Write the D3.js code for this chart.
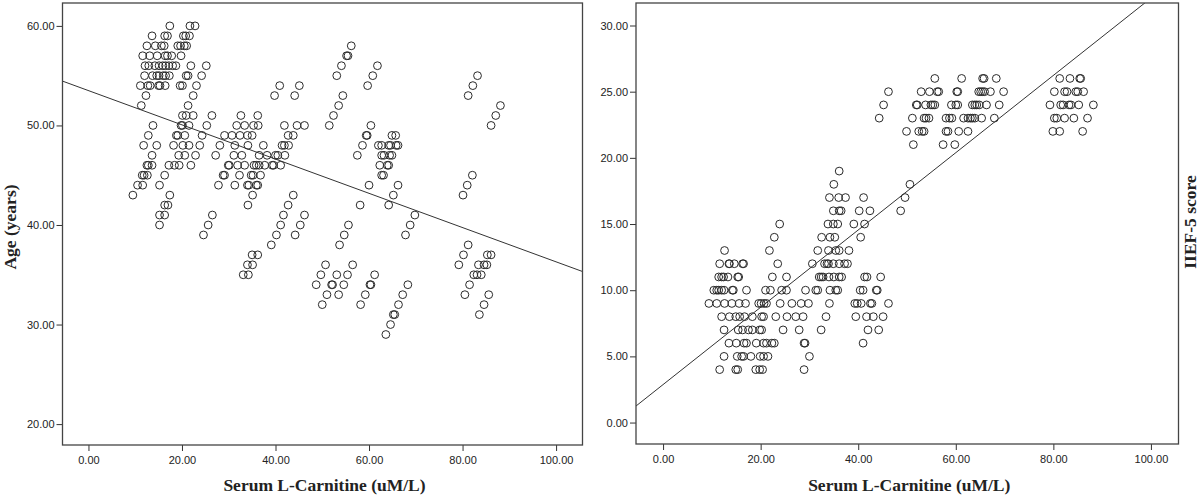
<!DOCTYPE html>
<html>
<head>
<meta charset="utf-8">
<script src="https://cdn.jsdelivr.net/npm/d3@7"></script>
<style>
  body { margin: 0; background: #fff; }
  .tick text { font-family: "Liberation Sans", Arial, sans-serif; font-size: 11px; fill: #222; }
  .tick line { stroke: #333; }
  .title { font-family: "Liberation Serif", "Times New Roman", serif; font-weight: bold; font-size: 17.5px; fill: #222; }
</style>
</head>
<body>
<div id="plot"></div>
<script>
//tick values shared by both panels
var carnitineTicks = [0, 20, 40, 60, 80, 100];
var ageTicks = [20, 30, 40, 50, 60];
var iiefTicks = [0, 5, 10, 15, 20, 25, 30];

//left panel: age row -> serum L-carnitine values of the points in that row
var ageRows = [
  [60, [17.4, 21.7, 22.8]],
  [59, [13.6, 16.3, 16.9, 20.3, 20.8, 21.6]],
  [58, [12.5, 14.3, 15.6, 16.2, 19.1, 19.7, 20.5, 21.0, 56.2]],
  [57, [11.6, 13.1, 14.7, 16.4, 16.9, 17.8, 19.8, 55.2, 55.5]],
  [56, [12.1, 12.9, 14.2, 15.1, 15.9, 16.5, 17.2, 18.0, 18.7, 21.9, 25.2, 54.1, 61.8]],
  [55, [12.0, 13.7, 14.6, 15.1, 16.0, 16.5, 17.3, 20.9, 21.3, 24.2, 53.1, 60.8, 83.2]],
  [54, [11.1, 12.7, 13.2, 15.0, 15.3, 16.4, 19.6, 20.1, 23.1, 40.9, 45.1, 59.7, 82.2]],
  [53, [12.3, 22.4, 39.8, 44.1, 54.4, 81.2]],
  [52, [11.3, 21.3, 53.5, 88.1]],
  [51, [20.1, 20.9, 22.4, 26.4, 32.6, 36.2, 52.4, 87.1]],
  [50, [13.8, 19.8, 20.1, 21.5, 25.3, 31.7, 33.4, 35.3, 36.3, 41.9, 44.6, 46.2, 51.5, 60.4, 86.1]],
  [49, [12.8, 18.8, 19.1, 20.6, 24.3, 29.1, 30.7, 32.4, 34.0, 35.0, 42.7, 43.8, 59.4, 59.6, 64.9, 65.7]],
  [48, [11.8, 14.6, 18.2, 20.2, 21.5, 23.8, 28.1, 31.3, 34.1, 37.4, 41.4, 41.9, 42.8, 58.6, 62.0, 62.7, 64.2, 64.6, 65.8, 66.2]],
  [47, [13.6, 19.3, 20.6, 22.9, 27.2, 31.1, 32.8, 36.5, 38.2, 40.0, 40.5, 42.0, 57.5, 62.7, 63.2, 64.4, 64.9]],
  [46, [12.5, 12.8, 13.6, 17.2, 18.4, 19.4, 21.9, 29.9, 30.1, 31.9, 33.4, 35.4, 35.9, 36.5, 37.7, 39.3, 39.6, 41.1, 62.3, 63.9, 64.2]],
  [45, [11.5, 11.9, 12.6, 16.3, 28.8, 29.1, 32.3, 34.8, 35.2, 36.8, 62.7, 63.1, 82.1]],
  [44, [10.5, 11.6, 15.2, 27.8, 31.3, 34.0, 34.3, 35.9, 36.2, 60.0, 66.2, 81.0]],
  [43, [9.5, 17.4, 35.1, 43.8, 65.2, 80.1]],
  [42, [16.3, 17.0, 34.1, 42.7, 58.1, 64.2]],
  [41, [15.2, 16.3, 26.5, 41.7, 46.2, 69.8]],
  [40, [15.2, 25.6, 41.1, 45.3, 55.6, 68.8]],
  [39, [24.6, 40.2, 44.2, 54.7, 67.8]],
  [38, [39.1, 53.7, 81.2]],
  [37, [35.0, 36.2, 80.2, 85.3, 86.1]],
  [36, [34.0, 35.1, 50.7, 56.5, 79.2, 83.4, 84.6, 85.2]],
  [35, [33.1, 34.2, 49.7, 53.1, 55.4, 61.2, 82.4, 83.1, 84.0]],
  [34, [48.7, 52.0, 52.2, 54.6, 60.2, 60.4, 68.3, 81.5]],
  [33, [51.0, 53.5, 59.2, 67.2, 80.5, 85.6]],
  [32, [50.0, 58.2, 66.3, 84.6]],
  [31, [65.2, 65.5, 83.6]],
  [30, [64.6]],
  [29, [63.6]]
];

//right panel: IIEF-5 score row -> serum L-carnitine values
var iiefRows = [
  [26, [55.7, 61.2, 65.5, 65.8, 68.3, 81.3, 83.4, 85.4, 85.6]],
  [25, [46.2, 52.9, 54.6, 56.2, 56.5, 60.2, 60.4, 64.7, 65.1, 65.5, 65.9, 67.1, 69.8, 80.2, 82.3, 82.8, 84.6, 85.0, 86.2]],
  [24, [45.2, 51.9, 52.1, 53.8, 54.9, 55.3, 55.7, 59.1, 60.0, 60.4, 63.4, 63.9, 64.3, 64.8, 66.3, 68.9, 79.3, 81.5, 82.0, 83.2, 83.6, 85.2, 88.2]],
  [23, [44.3, 51.1, 53.5, 53.9, 54.5, 58.0, 58.7, 59.2, 61.6, 62.5, 63.0, 63.4, 63.9, 65.3, 67.9, 80.2, 80.7, 82.3, 84.2, 87.0]],
  [22, [49.9, 52.4, 53.1, 53.5, 58.0, 58.4, 60.6, 62.5, 79.9, 81.3, 86.0]],
  [21, [51.3, 57.4, 59.8]],
  [19, [36.1]],
  [18, [35.0, 50.6]],
  [17, [34.1, 36.0, 37.4, 41.1, 49.6]],
  [16, [34.9, 36.1, 36.5, 40.2, 42.4, 48.7]],
  [15, [23.9, 33.8, 34.9, 35.8, 39.1, 41.3]],
  [14, [22.8, 32.5, 34.2, 35.2, 40.5]],
  [13, [12.6, 21.8, 31.7, 33.9, 35.4, 36.1, 38.1]],
  [12, [11.6, 13.5, 13.6, 14.6, 16.3, 16.5, 23.5, 30.6, 33.1, 33.6, 33.9, 34.9, 36.1, 37.2, 37.8]],
  [11, [11.4, 12.0, 12.4, 13.3, 15.3, 15.5, 22.4, 25.3, 32.0, 32.4, 32.8, 34.0, 35.0, 36.1, 36.6, 41.3, 41.8, 44.6]],
  [10, [10.4, 11.0, 11.4, 12.0, 12.5, 14.2, 14.4, 17.1, 21.0, 22.0, 24.3, 25.3, 29.2, 31.3, 31.7, 34.2, 35.4, 35.8, 40.4, 41.0, 43.7, 43.9]],
  [9, [9.4, 11.0, 12.6, 14.1, 15.6, 16.9, 19.6, 20.1, 20.7, 21.2, 24.0, 26.4, 28.3, 29.8, 34.1, 39.3, 39.8, 40.6, 42.5, 42.8, 46.2]],
  [8, [12.0, 13.6, 14.9, 15.7, 16.7, 18.3, 20.2, 20.6, 23.1, 25.4, 27.2, 28.7, 33.4, 39.5, 41.7, 43.1, 45.1]],
  [7, [12.5, 15.4, 16.3, 17.5, 18.3, 19.8, 20.2, 24.6, 27.9, 32.4, 42.0, 44.2]],
  [6, [13.5, 15.0, 16.6, 17.1, 19.1, 20.6, 21.2, 22.3, 22.8, 28.9, 29.1, 41.0]],
  [5, [12.5, 15.2, 16.1, 16.5, 18.0, 19.9, 20.6, 21.5, 30.0]],
  [4, [11.6, 14.9, 15.3, 19.0, 19.8, 20.4, 28.9]]
];

//fit lines (intercept, slope)
var ageFit = [53.5, -0.172];
var iiefFit = [2.87, 0.292];

var svg = d3.select('#plot')
  .append('svg')
  .attr('width', 1200)
  .attr('height', 497);

function flatten(rows){
  var pts = [];
  rows.forEach(function(r){
    r[1].forEach(function(x){ pts.push({x: x, y: r[0]}); });
  });
  return pts;
}

function panel(opt){
  var w = opt.r - opt.l, h = opt.b - opt.t;
  var g = svg.append('g').attr('transform', 'translate(' + opt.l + ',' + opt.t + ')');

  var x = d3.scaleLinear().domain([-5.55, 105.65]).range([0, w]);
  var y = d3.scaleLinear().domain(opt.yDomain).range([h, 0]);

  g.append('rect')
    .attr('width', w).attr('height', h)
    .attr('fill', '#fff');

  var clip = 'clip-' + opt.name;
  g.append('clipPath').attr('id', clip)
    .append('rect').attr('width', w).attr('height', h);

  g.append('g')
    .attr('transform', 'translate(0,' + h + ')')
    .call(d3.axisBottom(x).tickValues(carnitineTicks).tickSize(6).tickPadding(5).tickFormat(d3.format('.2f')))
    .call(function(a){ a.select('.domain').remove(); });

  g.append('g')
    .call(d3.axisLeft(y).tickValues(opt.ticks).tickSize(6).tickPadding(2).tickFormat(d3.format('.2f')))
    .call(function(a){ a.select('.domain').remove(); });

  g.selectAll('circle.pt')
    .data(flatten(opt.rows))
    .enter()
    .append('circle')
    .attr('class', 'pt')
    .attr('cx', function(d){ return x(d.x); })
    .attr('cy', function(d){ return y(d.y); })
    .attr('r', 3.9)
    .attr('fill', 'none')
    .attr('stroke', '#2a2a2a')
    .attr('stroke-width', 1);

  var x0 = x.domain()[0], x1 = x.domain()[1];
  g.append('line')
    .attr('clip-path', 'url(#' + clip + ')')
    .attr('x1', x(x0)).attr('y1', y(opt.fit[0] + opt.fit[1] * x0))
    .attr('x2', x(x1)).attr('y2', y(opt.fit[0] + opt.fit[1] * x1))
    .attr('stroke', '#333')
    .attr('stroke-width', 1);

  g.append('rect')
    .attr('width', w).attr('height', h)
    .attr('fill', 'none')
    .attr('stroke', '#444')
    .attr('stroke-width', 1.3);

  svg.append('text')
    .attr('class', 'title')
    .attr('x', opt.l + w / 2 + 2)
    .attr('y', 491)
    .attr('text-anchor', 'middle')
    .text('Serum L-Carnitine (uM/L)');

  svg.append('text')
    .attr('class', 'title')
    .attr('transform', 'translate(' + opt.yTitleX + ',' + opt.yTitleY + ') rotate(-90)')
    .attr('text-anchor', 'middle')
    .text(opt.yTitle);
}

panel({name: 'age', l: 62.5, r: 582.5, t: 3, b: 445, yDomain: [17.9, 62.3], ticks: ageTicks,
  rows: ageRows, fit: ageFit, yTitle: 'Age (years)', yTitleX: 16, yTitleY: 227});

panel({name: 'iief', l: 636, r: 1178.5, t: 3, b: 444, yDomain: [-1.62, 31.7], ticks: iiefTicks,
  rows: iiefRows, fit: iiefFit, yTitle: 'IIEF-5 score', yTitleX: 1196, yTitleY: 222});
</script>
</body>
</html>
